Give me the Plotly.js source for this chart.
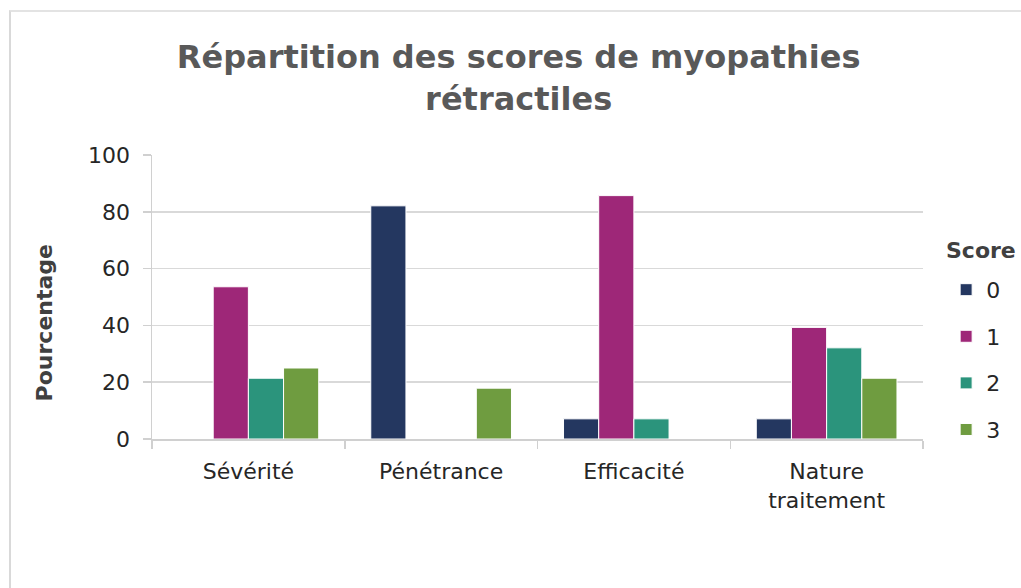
<!DOCTYPE html>
<html>
<head>
<meta charset="utf-8">
<script src="https://cdn.plot.ly/plotly-3.0.1.min.js"></script>
<style>
  html, body { margin: 0; padding: 0; background: #fff; }
  #chart { width: 1021px; height: 588px; }
  #frame { position: absolute; left: 9px; top: 10px; width: 1100px; height: 700px;
           border-left: 2px solid #d9d9d9; border-top: 2px solid #e3e3e3; pointer-events: none; }
</style>
</head>
<body>
<div id="chart"></div>
<div id="frame"></div>
<script>
const categories = ["Sévérité", "Pénétrance", "Efficacité", "Nature<br>traitement"];
const scoreNames = ["0", "1", "2", "3"];
const score0 = [0, 82.1, 7.1, 7.1];
const score1 = [53.6, 0, 85.7, 39.3];
const score2 = [21.4, 0, 7.1, 32.1];
const score3 = [25.0, 17.9, 0, 21.4];
const colors = ["#243760", "#9e2778", "#2b947c", "#6f9c40"];

const series = [score0, score1, score2, score3];
const FONT = "DejaVu Sans, sans-serif";

const traces = series.map((vals, i) => ({
  type: "bar",
  name: scoreNames[i],
  x: categories,
  y: vals,
  legendgroup: "g" + i,
  marker: { color: colors[i], line: { color: "#ffffff", width: 1 } },
  hoverinfo: "x+y+name"
}));

const layout = {
  width: 1021, height: 588,
  paper_bgcolor: "#ffffff", plot_bgcolor: "#ffffff",
  margin: { l: 152, r: 98, t: 155, b: 149 },
  font: { family: FONT, color: "#262626", size: 23 },
  title: {
    text: "<b>Répartition des scores de myopathies<br>rétractiles</b>",
    font: { family: FONT, size: 32, color: "#595959" },
    x: 0.508, xref: "container", xanchor: "center",
    y: 0.884, yref: "container", yanchor: "top"
  },
  barmode: "group",
  bargap: 0.27,
  bargroupgap: 0,
  xaxis: {
    type: "category",
    showline: true, linecolor: "#d0d0d0", linewidth: 1.5,
    ticks: "outside", tickson: "boundaries", ticklen: 8, tickcolor: "#d0d0d0", tickwidth: 1.5,
    tickfont: { family: FONT, size: 22, color: "#262626" },
    ticklabelstandoff: 12,
    showgrid: false, zeroline: false
  },
  yaxis: {
    range: [0, 100], dtick: 20, tick0: 0,
    showline: true, linecolor: "#d0d0d0", linewidth: 1.5,
    ticks: "outside", ticklen: 8, tickcolor: "#d0d0d0", tickwidth: 1.5,
    tickfont: { family: FONT, size: 22, color: "#262626" },
    showgrid: true, gridcolor: "#d9d9d9", gridwidth: 1.5,
    zeroline: false,
    ticklabelstandoff: 8
  },
  legend: {
    font: { family: FONT, size: 22, color: "#262626" },
    x: 1.03, xanchor: "left", y: 0.599, yanchor: "top",
    traceorder: "grouped", tracegroupgap: 15,
    itemwidth: 30
  },
  annotations: [{
    text: "<b>Pourcentage</b>",
    xref: "paper", yref: "paper",
    x: -0.139, y: 0.41, xanchor: "center", yanchor: "middle",
    textangle: -90, showarrow: false,
    font: { family: FONT, size: 22, color: "#404040" }
  }, {
    text: "<b>Score</b>",
    xref: "paper", yref: "paper",
    x: (981 - 152) / 771, y: (439 - 250) / 284, xanchor: "center", yanchor: "middle",
    showarrow: false,
    font: { family: FONT, size: 22, color: "#404040" }
  }]
};

Plotly.newPlot("chart", traces, layout, { displayModeBar: false, staticPlot: true });
</script>
</body>
</html>
